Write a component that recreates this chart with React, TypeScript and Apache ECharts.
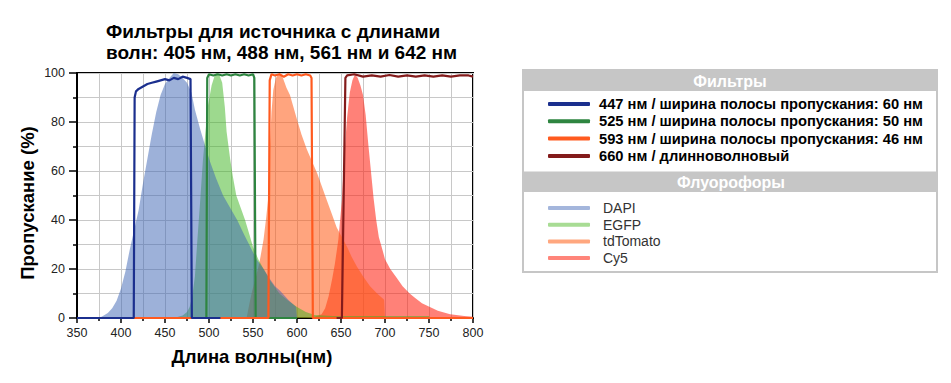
import React, { useEffect, useRef } from "react";
import * as echarts from "echarts";

const titleText = "Фильтры для источника с длинами\nволн: 405 нм, 488 нм, 561 нм и 642 нм";
const xAxisName = "Длина волны(нм)";
const yAxisName = "Пропускание (%)";
const filtersHeader = "Фильтры";
const fluorHeader = "Флуорофоры";

const filterNames = [
  "447 нм / ширина полосы пропускания: 60 нм",
  "525 нм / ширина полосы пропускания: 50 нм",
  "593 нм / ширина полосы пропускания: 46 нм",
  "660 нм / длинноволновый",
];
const fluorNames = ["DAPI", "EGFP", "tdTomato", "Cy5"];

// filter transmission curves [nm, %]
const filter447: [number, number][] = [
  [350, 0], [414.5, 0], [415.5, 90], [417, 92.5], [420, 93.5], [425, 94.5], [430, 95.5], [435, 96],
  [440, 96.5], [445, 97], [450, 97.5], [455, 97], [460, 98], [465, 97.5], [470, 98.5], [475, 98],
  [479, 97.5], [480.5, 0], [513, 0],
];
const filter525: [number, number][] = [
  [497, 0], [498, 98], [500, 99.5], [505, 99], [510, 99.5], [515, 99], [520, 99.5], [525, 99],
  [530, 99.5], [535, 99], [540, 99.5], [545, 99], [550, 99.5], [551.5, 98], [553, 0], [600, 0],
];
const filter593: [number, number][] = [
  [414, 0], [567.5, 0], [569, 97], [571, 99.5], [575, 99], [580, 99.5], [585, 98.5], [590, 99.5],
  [595, 99], [600, 99.5], [605, 99], [610, 99.5], [615, 99], [616.5, 98], [618, 0], [800, 0],
];
const filter660: [number, number][] = [
  [645, 0], [651, 0], [655, 98], [657, 99], [665, 99.5], [675, 98.5], [685, 99], [695, 98.5],
  [705, 99.2], [715, 98.5], [725, 99], [735, 98.5], [745, 99], [755, 98.5], [765, 99], [775, 98.5],
  [785, 99], [795, 99], [800, 98.5],
];

// fluorophore emission spectra [nm, %]
const dapiSpectrum: [number, number][] = [
  [370, 0], [378, 0.5], [385, 2], [390, 4], [395, 7], [400, 12], [405, 19], [410, 28], [415, 36],
  [420, 44], [425, 55], [430, 65], [435, 75], [440, 84], [445, 91], [450, 95.5], [455, 98], [460, 100],
  [465, 99.5], [470, 98], [475, 96], [480, 92], [484, 85], [490, 77], [495, 71], [501, 64], [508, 57],
  [516, 50], [524, 45], [532, 40], [540, 34], [547, 29], [554, 24], [562, 20], [569, 16], [575, 13],
  [581, 11], [590, 7.5], [599, 4.5], [600, 0],
];
const egfpSpectrum: [number, number][] = [
  [460, 0], [470, 1], [475, 2.5], [478, 4.5], [481, 9], [484, 17], [487, 33], [490, 48], [493, 64],
  [496, 76], [499, 87], [503, 95], [507, 99.5], [509, 100], [512, 99], [515, 96], [518, 86], [520, 76],
  [524, 65], [527, 58], [531, 50], [536, 45], [541, 40], [546, 34], [550, 29], [556, 24], [562, 20],
  [570, 15], [580, 10], [590, 7], [600, 4.5], [610, 2.5], [620, 1.2], [640, 0.8], [700, 0.8], [750, 0.8],
  [751, 0],
];
const tdTomatoSpectrum: [number, number][] = [
  [540, 0], [543, 0.5], [546, 6], [549, 11], [552, 15], [557, 22], [562, 32], [565, 41], [567, 48],
  [569, 68], [571, 84], [573, 93], [576, 98], [580, 100], [584, 98], [588, 94], [592, 91], [596, 86],
  [600, 81], [605, 75], [611, 69], [617, 64], [623, 59], [629, 53], [634, 48], [640, 42], [645, 37],
  [651, 33], [657, 29], [662, 25], [668, 21], [675, 17], [683, 13], [691, 10], [699, 7.5], [700, 0],
];
const cy5Spectrum: [number, number][] = [
  [610, 0], [620, 0.5], [628, 1.5], [632, 4], [636, 9], [640, 16], [643, 22], [647, 32], [651, 48],
  [654, 68], [657, 82], [660, 92], [663, 97], [666, 99.5], [669, 98], [672, 95], [675, 91], [678, 83],
  [681, 71], [684, 60], [687, 49], [690, 40], [693, 33], [697, 28], [700, 24], [706, 20], [713, 16.5],
  [720, 13], [728, 10], [735, 8], [742, 6], [751, 4.5], [760, 3], [774, 1.5], [790, 0.8], [800, 0.5],
];

const filterColors = ["#1b2f8e", "#2e8540", "#ff5a1f", "#831b1b"];
const fluorLegendColors = ["#a4b6dc", "#a8dc94", "#ffa77f", "#ff857a"];
const fluorFillColors = [
  "rgba(60,100,180,0.5)",
  "rgba(60,180,30,0.5)",
  "rgba(255,90,20,0.55)",
  "rgba(255,30,15,0.56)",
];

const FONT = "'Liberation Sans', Arial, sans-serif";
const NARROW = "'Liberation Sans Narrow', 'Arial Narrow', 'Liberation Sans', sans-serif";

function buildOption(): any {
  const fluorData = [dapiSpectrum, egfpSpectrum, tdTomatoSpectrum, cy5Spectrum];
  const filterData = [filter447, filter525, filter593, filter660];

  const fluorSeries = [3, 2, 1, 0].map((i) => ({
    type: "line",
    name: fluorNames[i],
    data: fluorData[i],
    symbol: "none",
    showSymbol: false,
    silent: true,
    z: 2,
    lineStyle: { width: 0, color: fluorLegendColors[i] },
    itemStyle: { color: fluorLegendColors[i] },
    areaStyle: { color: fluorFillColors[i], opacity: 1 },
  }));
  const filterSeries = [1, 2, 0, 3].map((i) => ({
    type: "line",
    name: filterNames[i],
    data: filterData[i],
    symbol: "none",
    showSymbol: false,
    silent: true,
    z: 3,
    lineStyle: { width: 2.2, color: filterColors[i] },
    itemStyle: { color: filterColors[i] },
  }));

  const gridColor = "#c8c8c8";
  const axisCommon = {
    axisLine: { show: true, onZero: false, lineStyle: { color: "#000", width: 2 } },
    axisTick: { show: true, inside: false, lineStyle: { color: "#000", width: 1.5 } },
    minorTick: { show: true, splitNumber: 2, lineStyle: { color: "#000", width: 1.5 } },
    splitLine: { show: true, lineStyle: { color: gridColor, width: 1 } },
    minorSplitLine: { show: true, lineStyle: { color: gridColor, width: 1 } },
  };

  return {
    animation: false,
    backgroundColor: "#fff",
    title: {
      text: titleText,
      left: 106,
      top: 21,
      padding: 0,
      textStyle: { fontFamily: FONT, fontSize: 19, fontWeight: "bold", color: "#000", lineHeight: 21 },
    },
    grid: {
      left: 77,
      top: 73,
      width: 396,
      height: 245,
      show: true,
      borderColor: "#000",
      borderWidth: 2,
      backgroundColor: "transparent",
    },
    xAxis: {
      type: "value",
      min: 350,
      max: 800,
      interval: 50,
      ...axisCommon,
      axisTick: { ...axisCommon.axisTick, length: 5 },
      minorTick: { ...axisCommon.minorTick, length: 3 },
      axisLabel: { fontFamily: NARROW, fontSize: 12.5, color: "#222", margin: 8 },
      name: xAxisName,
      nameLocation: "middle",
      nameGap: 29,
      nameTextStyle: { fontFamily: FONT, fontSize: 18.5, fontWeight: "bold", color: "#000", padding: [0, 46, 0, 0] },
    },
    yAxis: {
      type: "value",
      min: 0,
      max: 100,
      interval: 20,
      ...axisCommon,
      axisTick: { ...axisCommon.axisTick, length: 8 },
      minorTick: { ...axisCommon.minorTick, length: 4 },
      axisLabel: { fontFamily: NARROW, fontSize: 12.5, color: "#222", margin: 12 },
      name: yAxisName,
      nameLocation: "middle",
      nameRotate: 90,
      nameGap: 40,
      nameTextStyle: { fontFamily: FONT, fontSize: 18.5, fontWeight: "bold", color: "#000", padding: [0, 15, 0, 0] },
    },
    legend: [
      {
        data: filterNames.map((n, i) => ({ name: n, icon: "roundRect", itemStyle: { color: filterColors[i] } })),
        orient: "vertical",
        left: 548,
        top: 96.5,
        padding: 0,
        itemWidth: 42,
        itemHeight: 4,
        itemGap: 2.3,
        selectedMode: false,
        z: 10,
        textStyle: {
          fontFamily: FONT,
          fontSize: 14.7,
          fontWeight: "bold",
          color: "#000",
          lineHeight: 15,
          padding: [0, 0, 0, 4],
        },
      },
      {
        data: fluorNames.map((n, i) => ({ name: n, icon: "roundRect", itemStyle: { color: fluorLegendColors[i] } })),
        orient: "vertical",
        left: 548,
        top: 200.5,
        padding: 0,
        itemWidth: 42,
        itemHeight: 4,
        itemGap: 1.7,
        selectedMode: false,
        z: 10,
        textStyle: {
          fontFamily: NARROW,
          fontSize: 14,
          color: "#333",
          lineHeight: 15,
          padding: [0, 0, 0, 8],
        },
      },
    ],
    graphic: [
      {
        type: "rect",
        z: 1,
        shape: { x: 523, y: 70, width: 414, height: 202 },
        style: { fill: "#fff", stroke: "#c6c6c6", lineWidth: 2 },
      },
      {
        type: "rect",
        z: 1,
        shape: { x: 523, y: 70, width: 414, height: 21 },
        style: { fill: "#c6c6c6" },
      },
      {
        type: "rect",
        z: 1,
        shape: { x: 523, y: 171.5, width: 414, height: 20.5 },
        style: { fill: "#c6c6c6" },
      },
      {
        type: "text",
        z: 2,
        x: 730,
        y: 81,
        style: {
          text: filtersHeader,
          fill: "#fff",
          font: `bold 16px ${FONT}`,
          textAlign: "center",
          textVerticalAlign: "middle",
        },
      },
      {
        type: "text",
        z: 2,
        x: 731,
        y: 182,
        style: {
          text: fluorHeader,
          fill: "#fff",
          font: `bold 16px ${FONT}`,
          textAlign: "center",
          textVerticalAlign: "middle",
        },
      },
    ],
    series: [...fluorSeries, ...filterSeries],
  };
}

export default function App() {
  const ref = useRef<HTMLDivElement>(null);
  useEffect(() => {
    if (!ref.current) return;
    const chart = echarts.init(ref.current, null, { renderer: "svg" });
    chart.setOption(buildOption());
    return () => chart.dispose();
  }, []);
  return (
    <div
      ref={ref}
      style={{ position: "fixed", left: 0, top: 0, width: 951, height: 383, background: "#fff" }}
    />
  );
}
